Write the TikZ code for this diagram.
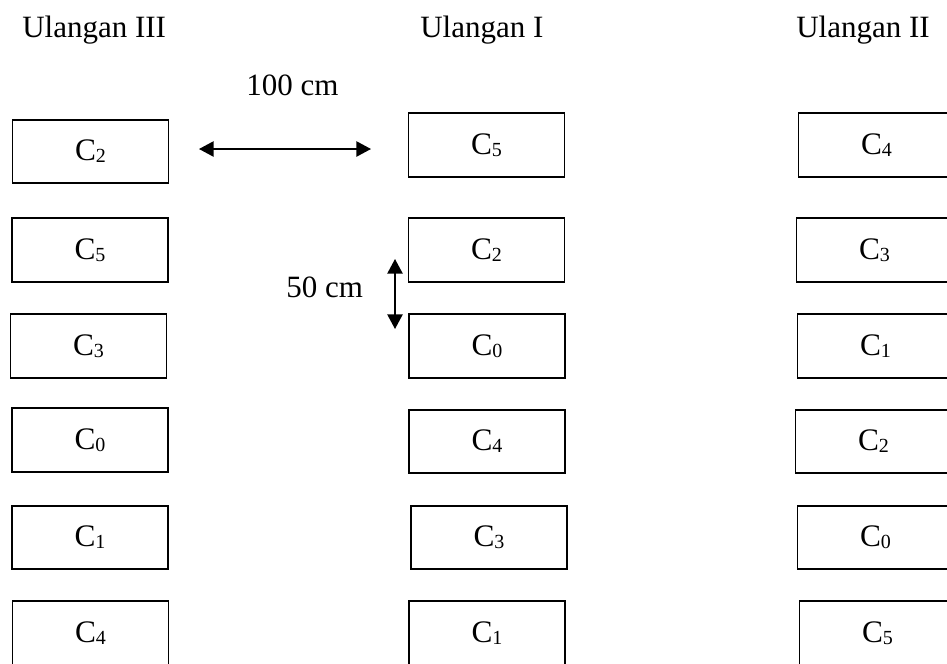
\documentclass[tikz,border=0pt]{standalone}
\usepackage{fontspec}
\setmainfont{Liberation Serif}
\usetikzlibrary{arrows.meta}
\newcommand\subdig[1]{\raisebox{-1.4pt}{\fontsize{15}{15}\selectfont #1}}
\tikzset{
  plotbox/.style={draw=black, line width=1.4pt, minimum width=117pt, minimum height=47.5pt, inner sep=0pt,
    font=\fontsize{23.5}{28}\selectfont},
  lbl/.style={inner sep=0pt, anchor=base west, font=\fontsize{23.25}{28}\selectfont},
  dimarrow/.style={line width=1.1pt, {Triangle[length=11pt,width=11.5pt]}-{Triangle[length=11pt,width=11.5pt]}}
}
\begin{document}
\begin{tikzpicture}[x=0.75pt,y=-0.75pt]
\useasboundingbox (0,0) rectangle (947,664);
\clip (0,0) rectangle (947,664);
% titles
\node[lbl] (t3) at (22,37) {Ulangan III};
\node[lbl] (t1) at (420,37) {Ulangan I};
\node[lbl] (t2) at (796,37) {Ulangan II};
\node[lbl] (d100) at (246,95) {100 cm};
\node[lbl] (d50) at (286,297) {50 cm};
% left column (Ulangan III)
\node[plotbox] (L1) at (90.5,151.5) {C\subdig{2}};
\node[plotbox] (L2) at (90,250) {C\subdig{5}};
\node[plotbox] (L3) at (88.5,346) {C\subdig{3}};
\node[plotbox] (L4) at (90,440) {C\subdig{0}};
\node[plotbox] (L5) at (90,537.5) {C\subdig{1}};
\node[plotbox] (L6) at (90.5,633) {C\subdig{4}};
% middle column (Ulangan I)
\node[plotbox] (M1) at (486.5,145) {C\subdig{5}};
\node[plotbox] (M2) at (486.5,250) {C\subdig{2}};
\node[plotbox] (M3) at (487,346) {C\subdig{0}};
\node[plotbox] (M4) at (487,441.5) {C\subdig{4}};
\node[plotbox] (M5) at (489,537.5) {C\subdig{3}};
\node[plotbox] (M6) at (487,633) {C\subdig{1}};
% right column (Ulangan II)
\node[plotbox] (R1) at (876.5,145) {C\subdig{4}};
\node[plotbox] (R2) at (874.5,250) {C\subdig{3}};
\node[plotbox] (R3) at (875.5,346) {C\subdig{1}};
\node[plotbox] (R4) at (873.5,441.5) {C\subdig{2}};
\node[plotbox] (R5) at (875.5,537.5) {C\subdig{0}};
\node[plotbox] (R6) at (877.5,633) {C\subdig{5}};
% dimension arrows
\coordinate (h1) at (199,149);
\coordinate (h2) at (371,149);
\coordinate (v1) at (395,259);
\coordinate (v2) at (395,329);
\draw[dimarrow] (h1) -- (h2);
\draw[dimarrow] (v1) -- (v2);
\end{tikzpicture}
\end{document}
